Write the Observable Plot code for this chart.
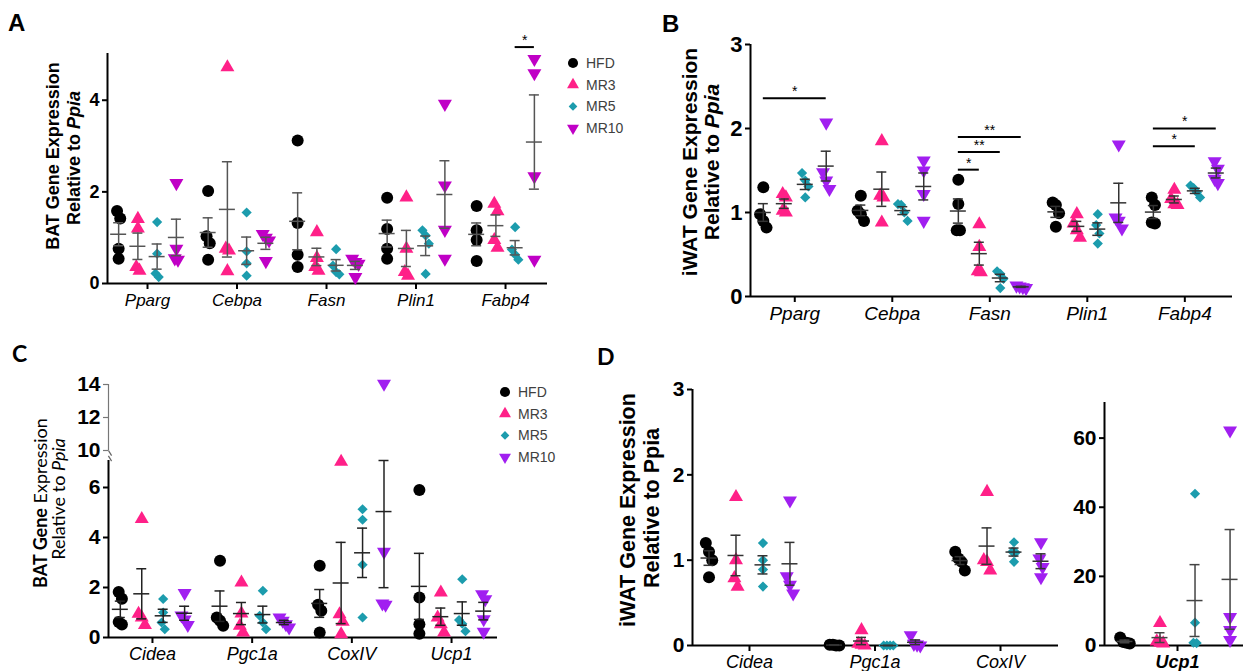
<!DOCTYPE html>
<html><head><meta charset="utf-8">
<script src="https://cdn.jsdelivr.net/npm/d3@7"></script>
<script src="https://cdn.jsdelivr.net/npm/@observablehq/plot@0.6"></script>
<style>
body{margin:0;background:#fff;}
#fig{position:relative;width:1243px;height:671px;overflow:hidden;background:#fff;}
#fig .p{position:absolute;}
#fig svg{display:block;overflow:visible;}
#overlay{position:absolute;left:0;top:0;pointer-events:none;}
.p g[aria-label="y-axis tick"], .p g[aria-label="x-axis tick"]{stroke-width:2px;}
#pA g[aria-label="y-axis tick label"]{font-size:18px;font-weight:bold;}
#pA g[aria-label="x-axis tick label"]{font-size:17px;font-style:italic;}
#pB g[aria-label="y-axis tick label"]{font-size:22px;font-weight:bold;}
#pB g[aria-label="x-axis tick label"]{font-size:19px;font-style:italic;}
#pC g[aria-label="y-axis tick label"], #pCu g[aria-label="y-axis tick label"]{font-size:21px;font-weight:bold;}
#pC g[aria-label="x-axis tick label"]{font-size:18px;font-style:italic;}
#pCu g[aria-label="y-axis tick"]{stroke:#777;stroke-width:1.2px;}
#pD g[aria-label="y-axis tick label"], #pDu g[aria-label="y-axis tick label"]{font-size:21px;font-weight:bold;}
#pD g[aria-label="x-axis tick label"]{font-size:18px;font-style:italic;}
#pDu g[aria-label="x-axis tick label"]{font-size:18px;font-style:italic;font-weight:bold;}
</style>
</head><body>
<div id="fig"></div>
<script>
// ---------- data ----------
const groups = ["HFD", "MR3", "MR5", "MR10"];

// Panel A: BAT adipogenic genes
const genesA = ["Pparg", "Cebpa", "Fasn", "Plin1", "Fabp4"];
const A_HFD  = [[1.58,1.42,0.76,0.54],[2.02,1.03,0.88,0.52],[3.12,1.32,0.63,0.36],[1.87,1.19,0.76,0.54],[1.69,1.16,0.95,0.49]];
const A_MR3  = [[1.41,1.20,0.36,0.28],[4.72,0.76,0.72,0.27],[1.12,0.56,0.36,0.28],[1.88,0.76,0.25,0.17],[1.74,1.58,0.95,0.78]];
const A_MR5  = [[1.34,0.65,0.22,0.14],[1.55,0.70,0.44,0.17],[0.75,0.39,0.25,0.20],[1.16,1.05,0.87,0.21],[1.23,0.74,0.63,0.52]];
const A_MR10 = [[2.19,0.76,0.55,0.52],[1.08,1.00,0.94,0.49],[0.54,0.47,0.43,0.14],[3.92,2.14,1.17,0.54],[4.90,4.59,2.34,0.52]];
const sigA = [{gene: 4, from: 2, to: 3, y: 5.16, label: "*"}];

// Panel B: iWAT adipogenic genes
const genesB = ["Pparg", "Cebpa", "Fasn", "Plin1", "Fabp4"];
const B_HFD  = [[1.30,0.98,0.90,0.82],[1.20,1.02,0.98,0.90],[1.39,1.10,0.79,0.79],[1.12,1.09,0.99,0.83],[1.18,1.09,0.88,0.87]];
const B_MR3  = [[1.22,1.18,1.02,1.00],[1.85,1.20,1.18,0.88],[0.86,0.59,0.30,0.29],[0.98,0.87,0.79,0.70],[1.27,1.16,1.10,1.09]];
const B_MR5  = [[1.47,1.38,1.31,1.18],[1.10,1.09,1.00,0.90],[0.30,0.27,0.21,0.10],[0.98,0.85,0.75,0.63],[1.32,1.29,1.24,1.18]];
const B_MR10 = [[2.07,1.48,1.38,1.28],[1.62,1.50,1.22,0.90],[0.13,0.12,0.11,0.10],[1.81,0.94,0.90,0.81],[1.61,1.52,1.40,1.35]];
const sigB = [
  {gene: 0, from: 0, to: 3, y: 2.36, label: "*"},
  {gene: 2, from: 0, to: 1, y: 1.51, label: "*"},
  {gene: 2, from: 0, to: 2, y: 1.72, label: "**"},
  {gene: 2, from: 0, to: 3, y: 1.90, label: "**"},
  {gene: 4, from: 0, to: 2, y: 1.79, label: "*"},
  {gene: 4, from: 0, to: 3, y: 2.00, label: "*"}
];

// Panel C: BAT thermogenic genes
const genesC = ["Cidea", "Pgc1a", "CoxIV", "Ucp1"];
const C_HFD  = [[1.82,1.55,0.62,0.52],[3.07,0.80,0.67,0.47],[2.87,1.31,1.07,0.20],[5.90,1.60,0.53,0.15]];
const C_MR3  = [[4.74,0.95,0.80,0.50],[2.20,0.96,0.47,0.20],[7.03,0.93,0.63,0.13],[1.80,0.80,0.53,0.20]];
const C_MR5  = [[1.54,1.00,0.60,0.33],[1.87,0.87,0.60,0.33],[5.13,4.71,2.91,0.80],[2.33,0.70,0.55,0.25]];
const C_MR10 = [[1.78,0.88,0.72,0.50],[0.80,0.67,0.53,0.40],[14.05,3.43,1.36,1.31],[1.73,1.53,0.73,0.23]];

// Panel D: iWAT thermogenic genes
const genesD = ["Cidea", "Pgc1a", "CoxIV"];
const D_HFD  = [[1.20,1.10,1.00,0.80],[0.01,0.01,0.00,0.00],[1.10,1.02,0.98,0.88]];
const D_MR3  = [[1.74,1.00,0.79,0.69],[0.18,0.02,0.01,0.00],[1.80,1.00,0.98,0.88]];
const D_MR5  = [[1.20,1.00,0.89,0.69],[0.00,0.00,0.00,0.00],[1.21,1.10,1.09,0.98]];
const D_MR10 = [[1.70,0.81,0.71,0.61],[0.12,0.02,0.01,0.00],[1.21,1.02,0.92,0.80]];
const genesDU = ["Ucp1"];
const DU_HFD  = [[2.3,1.0,0.8,0.6]];
const DU_MR3  = [[6.5,1.2,0.8,0.6]];
const DU_MR5  = [[43.9,6.6,0.8,0.7]];
const DU_MR10 = [[62.2,8.2,4.5,1.6]];

// ---------- styling ----------
const PINK = "#ff2088", TEAL = "#1c9cad", MAGENTA = "#c000c6", VIOLET = "#a11ff0";
const colorsA = ["#000", PINK, TEAL, MAGENTA];
const colorsB = ["#000", PINK, TEAL, VIOLET];
const sqrt3 = Math.sqrt(3);
const triDown = {draw(ctx, size) {
  const y = -Math.sqrt(size / (sqrt3 * 3));
  ctx.moveTo(0, -2 * y); ctx.lineTo(-sqrt3 * y, y); ctx.lineTo(sqrt3 * y, y); ctx.closePath();
}};
const slash = {draw(ctx, size) { const s = Math.sqrt(size) / 2; ctx.moveTo(-s * 0.6, -s); ctx.lineTo(s * 0.6, s); }};
const symbols = ["circle", "triangle", "diamond2", triDown];
const radii = [6, 5.2, 4.6, 5.2];
const FONT = "'Liberation Sans', Arial, sans-serif";

function spread(vals, thr, step) {
  const idx = vals.map((v, i) => i).sort((a, b) => vals[b] - vals[a]);
  const off = new Array(vals.length).fill(0);
  let cluster = [idx[0]];
  const flush = () => { const n = cluster.length; cluster.forEach((i, j) => off[i] = (j - (n - 1) / 2) * step); };
  for (let t = 1; t < idx.length; t++) {
    if (vals[cluster[cluster.length - 1]] - vals[idx[t]] < thr) cluster.push(idx[t]);
    else { flush(); cluster = [idx[t]]; }
  }
  flush();
  return off;
}

function panel(cfg) {
  const {id, left, top, width, height, mt, mr, mb, ml, genes, series, xDomain, yDomain, yTicks,
    colors, errColor = "#333", sig = [], showX = true, keep = () => true, clampHi = false,
    axisStroke = "#000", axisWidth = 2, brk = null} = cfg;
  const step = 0.215;
  const pxX = (width - ml - mr) / (xDomain[1] - xDomain[0]);
  const pxY = (height - mt - mb) / (yDomain[1] - yDomain[0]);
  const gx = (gi, k) => gi + (k - 1.5) * step;
  const points = [], stats = [];
  genes.forEach((g, gi) => {
    series.forEach((s, k) => {
      const vals = s[gi];
      const cx = gx(gi, k);
      const offs = spread(vals, 9 / pxY, 3.2 / pxX);
      vals.forEach((v, j) => { if (keep(v)) points.push({x: cx + offs[j], y: v, k}); });
      const m = d3.mean(vals), se = d3.deviation(vals) / Math.sqrt(vals.length);
      let hi = m + se;
      if (clampHi) hi = Math.min(hi, yDomain[1]);
      if (keep(m)) stats.push({x: cx, mean: m, lo: m - se, hi});
    });
  });
  const mh = 8 / pxX, ch = 5 / pxX;
  const marks = [
    Plot.ruleX([xDomain[0]], {stroke: axisStroke, strokeWidth: axisWidth}),
    ...(showX ? [Plot.ruleY([yDomain[0]], {stroke: "#000", strokeWidth: 2})] : []),
    ...series.map((s, k) => Plot.dot(points.filter(p => p.k === k), {
      x: "x", y: "y", symbol: symbols[k], r: radii[k], fill: colors[k], stroke: "none"})),
    Plot.ruleX(stats, {x: "x", y1: "lo", y2: "hi", stroke: errColor, strokeWidth: 1.5}),
    Plot.ruleY(stats, {y: "mean", x1: d => d.x - mh, x2: d => d.x + mh, stroke: errColor, strokeWidth: 1.5}),
    Plot.ruleY(stats, {y: "lo", x1: d => d.x - ch, x2: d => d.x + ch, stroke: errColor, strokeWidth: 1.5}),
    Plot.ruleY(stats, {y: "hi", x1: d => d.x - ch, x2: d => d.x + ch, stroke: errColor, strokeWidth: 1.5})
  ];
  if (sig.length) {
    marks.push(Plot.ruleY(sig, {y: "y", x1: d => gx(d.gene, d.from), x2: d => gx(d.gene, d.to), stroke: "#000", strokeWidth: 2}));
    marks.push(Plot.text(sig, {x: d => (gx(d.gene, d.from) + gx(d.gene, d.to)) / 2, y: "y", text: "label",
      lineAnchor: "top", dy: -12, fontSize: 14, fill: "#000"}));
  }
  if (brk) {
    marks.push(Plot.dot([brk.y], {x: () => xDomain[0], y: d => d, symbol: slash, r: 3, stroke: "#666",
      fill: "none", strokeWidth: 1.2, dx: brk.dx, dy: brk.dy}));
  }
  const plot = Plot.plot({
    width, height, marginTop: mt, marginRight: mr, marginBottom: mb, marginLeft: ml,
    style: {fontFamily: FONT, color: "#000", background: "transparent", overflow: "visible"},
    x: showX
      ? {domain: xDomain, ticks: genes.map((_, i) => i), tickFormat: i => genes[i], tickSize: 6, tickPadding: 4, label: null}
      : {domain: xDomain, axis: null},
    y: {domain: yDomain, ticks: yTicks, tickFormat: d => String(d), tickSize: 5, tickPadding: 3, label: null},
    marks
  });
  const wrap = document.createElement("div");
  wrap.className = "p"; wrap.id = id;
  wrap.style.left = left + "px"; wrap.style.top = top + "px";
  wrap.appendChild(plot);
  document.getElementById("fig").appendChild(wrap);
}

panel({id: "pA", left: 0, top: 0, width: 557, height: 313, mt: 53, mr: 10, mb: 30, ml: 107,
  genes: genesA, series: [A_HFD, A_MR3, A_MR5, A_MR10], xDomain: [-0.447, 4.469], yDomain: [0, 5.02],
  yTicks: [0, 2, 4], colors: colorsA, errColor: "#555", sig: sigA});

panel({id: "pB", left: 630, top: 0, width: 610, height: 326, mt: 44, mr: 8, mb: 30, ml: 120,
  genes: genesB, series: [B_HFD, B_MR3, B_MR5, B_MR10], xDomain: [-0.454, 4.489], yDomain: [0, 3],
  yTicks: [0, 1, 2, 3], colors: colorsB, errColor: "#333", sig: sigB});

panel({id: "pCu", left: 0, top: 370, width: 505, height: 80, mt: 14, mr: 8, mb: 0, ml: 108,
  genes: genesC, series: [C_HFD, C_MR3, C_MR5, C_MR10], xDomain: [-0.441, 3.461], yDomain: [10, 14],
  yTicks: [10, 12, 14], colors: colorsB, showX: false, keep: v => v >= 10,
  axisStroke: "#777", axisWidth: 1.2, brk: {y: 10, dx: 1.5, dy: 2.5}});

panel({id: "pC", left: 0, top: 440, width: 505, height: 227, mt: 20, mr: 8, mb: 30, ml: 108,
  genes: genesC, series: [C_HFD, C_MR3, C_MR5, C_MR10], xDomain: [-0.441, 3.461], yDomain: [0, 7.08],
  yTicks: [0, 2, 4, 6], colors: colorsB, errColor: "#222", keep: v => v <= 7.08, clampHi: true,
  brk: {y: 7.08, dx: 1.5, dy: -2}});

panel({id: "pD", left: 630, top: 360, width: 430, height: 311, mt: 29, mr: 2, mb: 26, ml: 62,
  genes: genesD, series: [D_HFD, D_MR3, D_MR5, D_MR10], xDomain: [-0.454, 2.462], yDomain: [0, 3],
  yTicks: [0, 1, 2, 3], colors: colorsB, errColor: "#333"});

panel({id: "pDu", left: 1040, top: 380, width: 203, height: 291, mt: 22, mr: 0, mb: 26, ml: 64,
  genes: genesDU, series: [DU_HFD, DU_MR3, DU_MR5, DU_MR10], xDomain: [-0.448, 0.405], yDomain: [0, 70.3],
  yTicks: [0, 20, 40, 60], colors: colorsB, errColor: "#444"});

// ---------- overlay: panel letters, axis titles, legends ----------
const ov = d3.select("#fig").append("svg").attr("id", "overlay").attr("width", 1243).attr("height", 671);

function letter(t, x, y, family, size) {
  ov.append("text").attr("x", x).attr("y", y).text(t)
    .attr("font-family", family).attr("font-size", size).attr("font-weight", "bold");
}
letter("A", 8, 31, FONT, 24);
letter("B", 662, 32, FONT, 24);
letter("C", 12, 362, "Lato, 'Open Sans', sans-serif", 23);
letter("D", 597, 365, "Lato, 'Open Sans', sans-serif", 23);

function vtitle(x, y, parts, family, size) {
  const t = ov.append("text").attr("transform", `translate(${x},${y}) rotate(-90)`)
    .attr("text-anchor", "middle").attr("font-family", family).attr("font-size", size);
  parts.forEach(p => t.append("tspan").text(p.t)
    .attr("font-weight", p.b ? "bold" : "normal").attr("font-style", p.i ? "italic" : "normal"));
}
vtitle(58.5, 156, [{t: "BAT Gene Expression", b: 1}], FONT, 18);
vtitle(80, 158, [{t: "Relative to ", b: 1}, {t: "Ppia", b: 1, i: 1}], FONT, 18);
vtitle(697, 162, [{t: "iWAT Gene Expression", b: 1}], FONT, 21);
vtitle(718.5, 162, [{t: "Relative to ", b: 1}, {t: "Ppia", b: 1, i: 1}], FONT, 21);
vtitle(46.5, 503, [{t: "BAT Gene", b: 1}, {t: " Expression"}], "Lato, 'Open Sans', sans-serif", 18);
vtitle(65, 499, [{t: "Relative to "}, {t: "Ppia", i: 1}], "Lato, 'Open Sans', sans-serif", 18);
vtitle(635, 510, [{t: "iWAT Gene Expression", b: 1}], FONT, 21.5);
vtitle(659, 508, [{t: "Relative to Ppia", b: 1}], FONT, 21.5);

function legend(x, y0, colors) {
  const sizes = [80, 62, 48, 62];
  groups.forEach((g, k) => {
    const y = y0 + k * 21.7;
    ov.append("path").attr("d", d3.symbol().type(k === 0 ? d3.symbolCircle : k === 1 ? d3.symbolTriangle : k === 2 ? d3.symbolDiamond2 : triDown).size(sizes[k])())
      .attr("transform", `translate(${x},${y})`).attr("fill", colors[k]);
    ov.append("text").attr("x", x + 13).attr("y", y).attr("dy", "0.35em").text(g)
      .attr("font-family", FONT).attr("font-size", 14).attr("fill", "#404040");
  });
}
legend(573, 63, colorsA);
legend(505, 392, colorsB);
</script>
</body></html>
